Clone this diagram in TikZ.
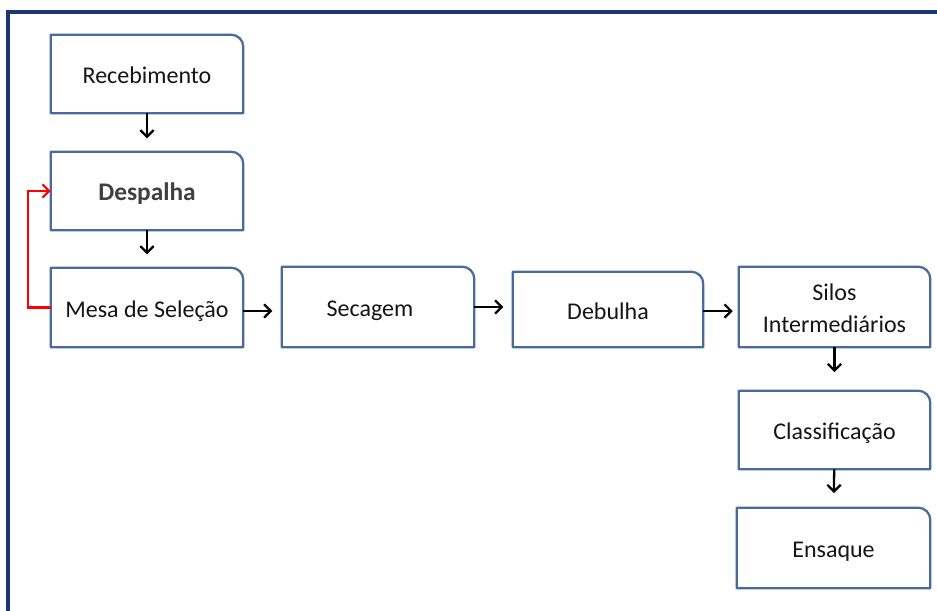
\documentclass[tikz,border=0pt]{standalone}
\usepackage{fontspec}
\setmainfont{Carlito}
\usetikzlibrary{arrows.meta}
\definecolor{boxblue}{HTML}{4A6A9B}
\definecolor{framenavy}{HTML}{1C3672}
\definecolor{txt}{HTML}{151515}
\tikzset{
  proc/.style={draw=none, inner sep=0pt, text=txt,
    font=\fontsize{18}{24}\selectfont},
  boxline/.style={draw=boxblue, line width=1.7pt, line join=round},
  flow/.style={draw=black, line width=1.7pt, -{Straight Barb[length=5pt,width=10pt,line width=1.7pt]}},
  backflow/.style={draw=red, line width=1.6pt, -{Straight Barb[length=5pt,width=10pt,line width=1.6pt]}},
  framestyle/.style={draw=framenavy, line width=2.4pt}
}
\newcommand\procnode[6]{%
  \node[proc, minimum width={(#4-#2)*0.75pt}, minimum height={(#5-#3)*0.75pt}] (#1) at ({(#2+#4)/2},{(#3+#5)/2})
    {\raisebox{-2.4pt}[\height][\depth]{\begin{tabular}{@{}c@{}}#6\end{tabular}}};
  \draw[boxline] (#1.south west) -- (#1.north west) -- ([xshift=-9pt]#1.north east)
     arc[start angle=90,end angle=0,radius=9pt] -- (#1.south east) -- cycle;}
\begin{document}
\begin{tikzpicture}[x=0.75pt,y=-0.75pt]
\useasboundingbox (0,0) rectangle (937,610);
\fill[white] (0,0) rectangle (937,610);
\draw[framestyle] (8,612) -- (8,12) -- (939,12);

\procnode{rec}{51}{35}{243}{113}{Recebimento}
\procnode{desp}{51}{152}{243}{230}{\fontsize{19}{24}\selectfont\bfseries\color[HTML]{404040}Despalha}
\procnode{mesa}{51}{268}{243}{347}{Mesa de Seleção}
\procnode{sec}{282}{267}{474}{347}{\hspace*{-12pt}Secagem}
\procnode{deb}{513}{272}{703}{347}{Debulha}
\procnode{silos}{739}{267}{930}{347}{Silos\\Intermediários}
\procnode{clas}{739}{391}{930}{469}{Classificação}
\procnode{ens}{737}{508}{930}{588}{Ensaque}

\draw[flow, shorten >=10pt] (rec) -- (desp);
\draw[flow, shorten >=10pt] (desp) -- (mesa);
\draw[flow, shorten >=7pt] (mesa.east |- 0,311) -- (sec.west |- 0,311);
\draw[flow, shorten >=7pt] (sec.east |- 0,307) -- (deb.west |- 0,307);
\draw[flow, shorten >=4.5pt] (deb.east |- 0,311) -- (silos.west |- 0,311);
\draw[flow, shorten >=14pt] (silos) -- (clas);
\draw[flow, shorten >=11pt] (clas) -- (ens);

\draw[backflow] (mesa.west) -- ++(-23,0) |- (desp.west);
\end{tikzpicture}
\end{document}
